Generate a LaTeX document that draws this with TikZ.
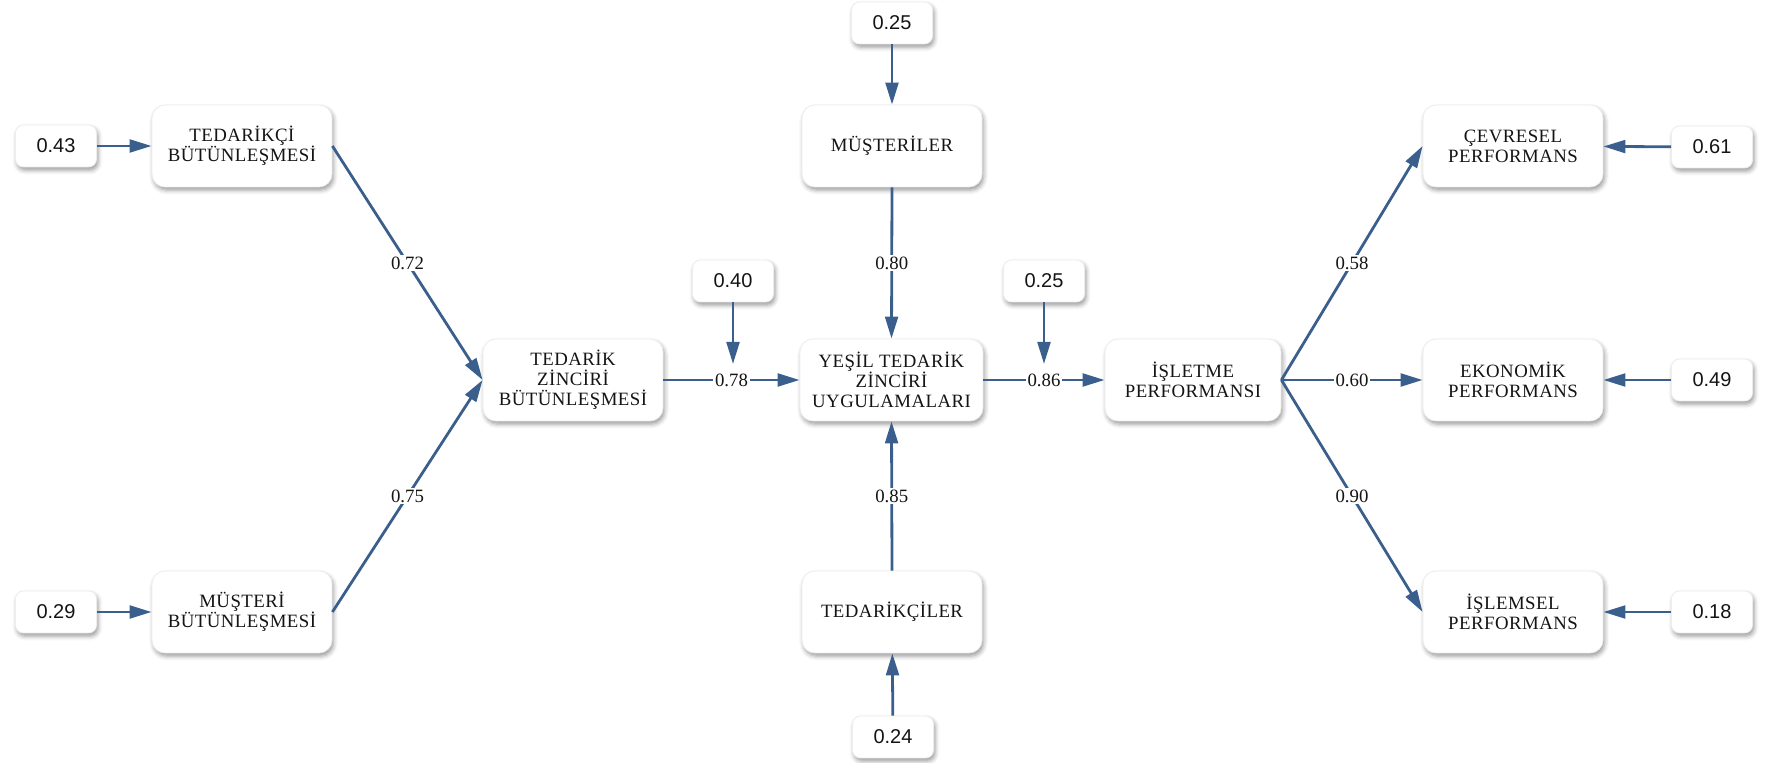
\documentclass[tikz,border=0pt]{standalone}
\usepackage{fontspec}
\setmainfont{Liberation Serif}[LetterSpace=2.5]
\newfontfamily\lblfont{Liberation Serif}
\newfontfamily\numfont{Liberation Sans}
\usetikzlibrary{arrows.meta,shadows.blur}
\definecolor{pathblue}{RGB}{59,95,140}
\definecolor{boxtext}{RGB}{20,20,20}

\begin{document}
\begin{tikzpicture}[x=0.5pt,y=-0.5pt,
  softshadow/.style={blur shadow={shadow xshift=0.8pt,shadow yshift=-1.6pt,shadow blur radius=2.2pt,shadow opacity=40}},
  construct/.style={draw=black!7, fill=white, rounded corners=6.5pt,
    minimum width=90pt, minimum height=41pt, inner sep=0pt, align=center,
    text=boxtext, font=\fontsize{9.4}{10}\selectfont, softshadow},
  resid/.style={draw=black!7, fill=white, rounded corners=4pt,
    minimum width=40.5pt, minimum height=21pt, inner sep=0pt,
    text=boxtext, font=\numfont\fontsize{10}{12}\selectfont, softshadow},
  pathline/.style={draw=pathblue, line width=1.4pt, -{Triangle[length=11pt,width=6.4pt]}},
  coef/.style={fill=white, inner sep=1pt, text=boxtext,
    font=\lblfont\fontsize{9.4}{10}\selectfont},
]
\useasboundingbox (0,0) rectangle (1783,763);

% latent constructs
\node[construct] (tb)  at (242,146)  {TEDARİKÇİ\\BÜTÜNLEŞMESİ};
\node[construct] (mb)  at (242,612)  {MÜŞTERİ\\BÜTÜNLEŞMESİ};
\node[construct] (tzb) at (573,380)  {TEDARİK\\ZİNCİRİ\\BÜTÜNLEŞMESİ};
\node[construct,minimum width=91.5pt] (ytz) at (891.5,380) {YEŞİL TEDARİK\\ZİNCİRİ\\UYGULAMALARI};
\node[construct] (mus) at (892,146)  {MÜŞTERİLER};
\node[construct] (ted) at (892,612)  {TEDARİKÇİLER};
\node[construct,minimum width=88pt] (isp) at (1193,380) {İŞLETME\\PERFORMANSI};
\node[construct] (cev) at (1513,146) {ÇEVRESEL\\PERFORMANS};
\node[construct] (eko) at (1513,380) {EKONOMİK\\PERFORMANS};
\node[construct] (isl) at (1513,612) {İŞLEMSEL\\PERFORMANS};

% residual values
\node[resid] (r43) at (56,146)   {0.43};
\node[resid] (r29) at (56,612)   {0.29};
\node[resid] (r40) at (733,281)  {0.40};
\node[resid] (r25a) at (892,23)  {0.25};
\node[resid] (r25b) at (1044,281) {0.25};
\node[resid] (r24) at (893,737)  {0.24};
\node[resid] (r61) at (1712,147) {0.61};
\node[resid] (r49) at (1712,380) {0.49};
\node[resid] (r18) at (1712,612) {0.18};

\coordinate (t78) at (733,364);
\coordinate (t86) at (1044,364);

% structural paths
\draw[pathline] (tb.east) -- node[coef]{0.72} (tzb.west);
\draw[pathline] (mb.east) -- node[coef]{0.75} (tzb.west);
\draw[pathline] (tzb.east) -- node[coef]{0.78} (ytz.west);
\draw[pathline] (mus.south) -- node[coef]{0.80} (ytz.north);
\draw[pathline] (ted.north) -- node[coef]{0.85} (ytz.south);
\draw[pathline] (ytz.east) -- node[coef]{0.86} (isp.west);
\draw[pathline] (isp.east) -- node[coef]{0.58} (cev.west);
\draw[pathline] (isp.east) -- node[coef]{0.60} (eko.west);
\draw[pathline] (isp.east) -- node[coef]{0.90} (isl.west);

% residual arrows
\draw[pathline] (r43) -- (tb);
\draw[pathline] (r29) -- (mb);
\draw[pathline] (r40) -- (t78);
\draw[pathline] (r25a) -- (mus);
\draw[pathline] (r25b) -- (t86);
\draw[pathline] (r24) -- (ted);
\draw[pathline] (r61) -- (cev);
\draw[pathline] (r49) -- (eko);
\draw[pathline] (r18) -- (isl);
\end{tikzpicture}
\end{document}
